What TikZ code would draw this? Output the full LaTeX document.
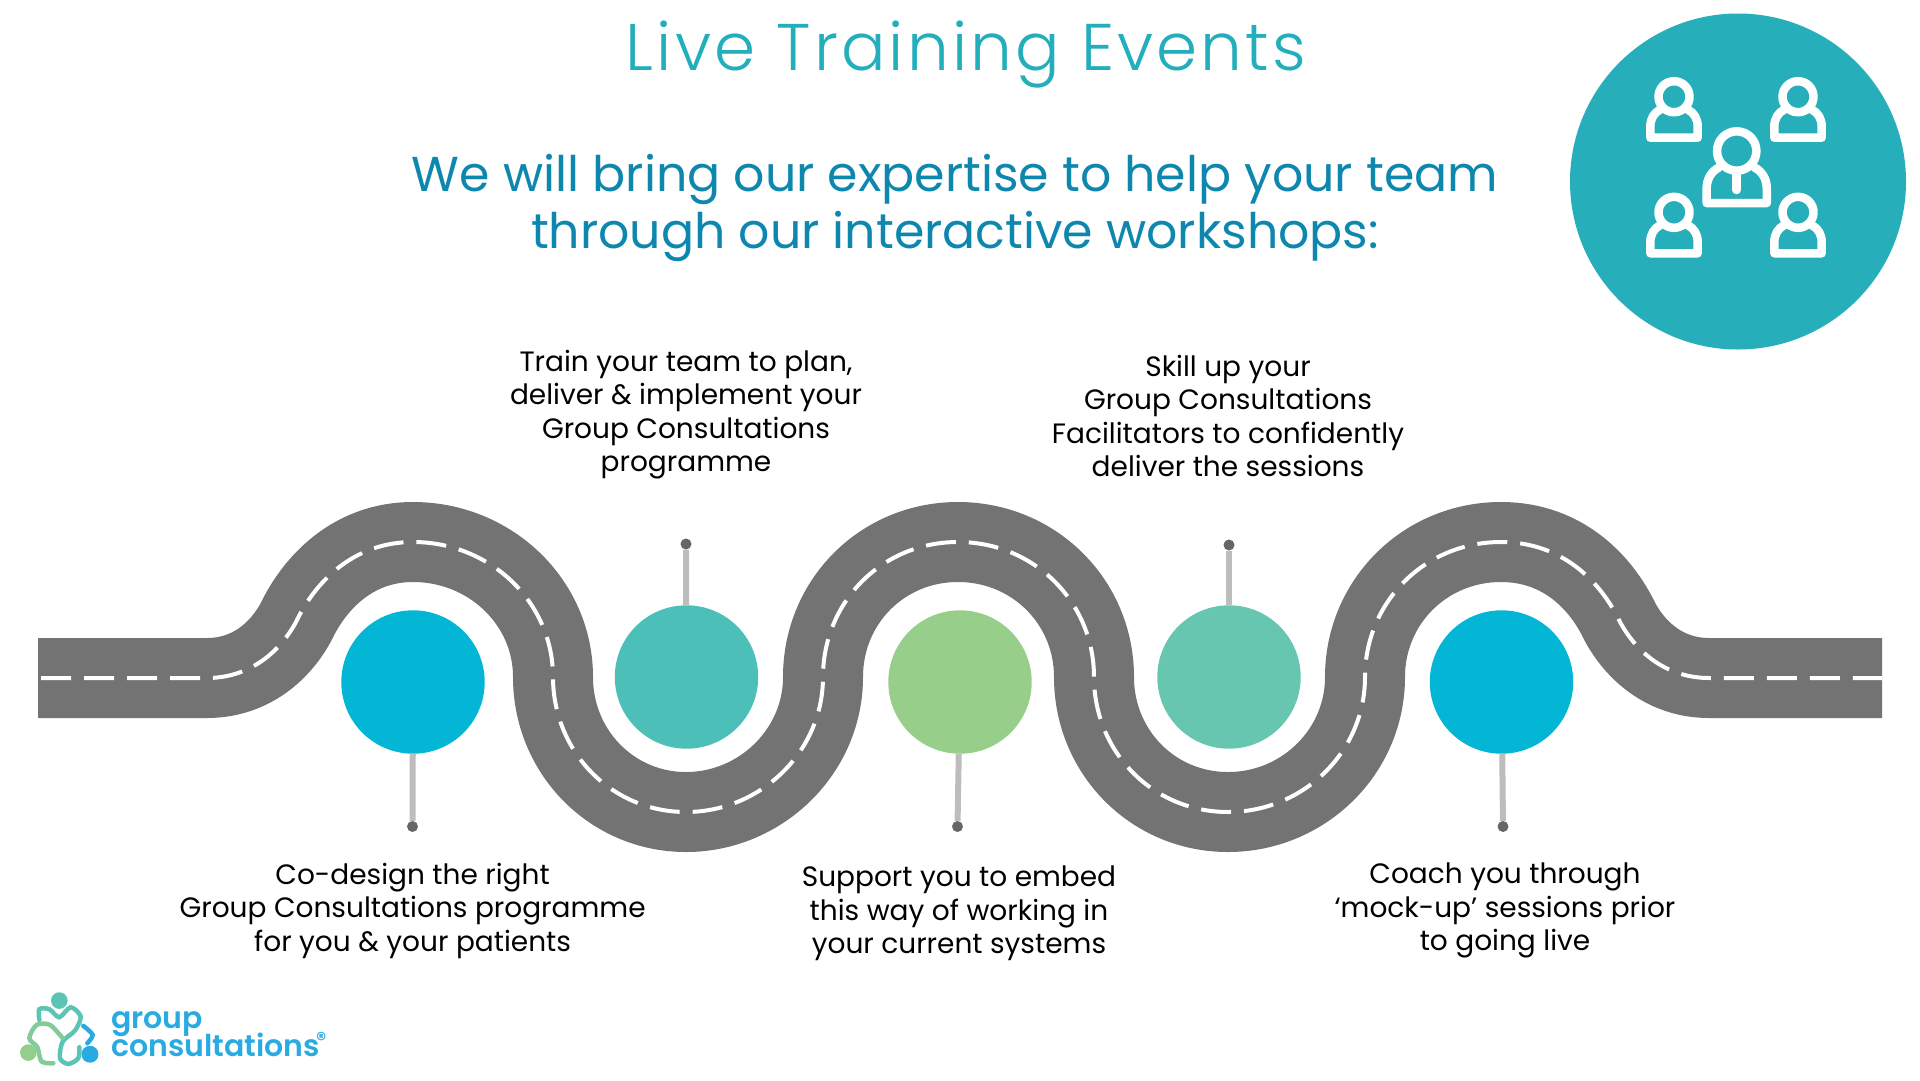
\documentclass[tikz,border=0pt]{standalone}
\usepackage{fontspec}
\setmainfont{Poppins}
\newfontfamily\lightfont[LetterSpace=4.8]{Poppins Light}
\newfontfamily\logofont{Poppins SemiBold}
\newcommand{\logotight}{\lineskiplimit=-30pt\relax}
\usetikzlibrary{calc}
\definecolor{titleteal}{HTML}{22AEBB}
\definecolor{subblue}{HTML}{0E87AF}
\definecolor{roadgrey}{HTML}{737373}
\definecolor{stemgrey}{HTML}{BDBDBD}
\definecolor{dotgrey}{HTML}{666666}
\definecolor{iconteal}{HTML}{26AEBB}
\definecolor{stopblue}{HTML}{03B6D5}
\definecolor{stopteal}{HTML}{4CC0B8}
\definecolor{stopgreen}{HTML}{97CE8A}
\definecolor{stopmint}{HTML}{66C6B0}
\definecolor{logoblue}{HTML}{29ABE2}
\definecolor{logoteal}{HTML}{5CC4B5}
\definecolor{logogreen}{HTML}{94CE8C}
\newcommand{\roadline}{(38,678) -- (207,678)
  .. controls (247,678) and (278,655) .. (296,622)
  .. controls (314,584) and (352,542) .. (413,542)
  .. controls (490,542) and (553,602) .. (553,677)
  .. controls (553,752) and (612,812) .. (686,812)
  .. controls (760,812) and (823,752) .. (823,677)
  .. controls (823,602) and (882,542) .. (958,542)
  .. controls (1034,542) and (1094,602) .. (1094,677)
  .. controls (1094,752) and (1153,812) .. (1228,812)
  .. controls (1303,812) and (1365,752) .. (1365,677)
  .. controls (1365,602) and (1425,542) .. (1501,542)
  .. controls (1564,542) and (1602,584) .. (1620,622)
  .. controls (1638,655) and (1669,678) .. (1709,678)
  -- (1882,678)}
\tikzset{
  stop/.style={circle, inner sep=0pt, minimum size=143.4pt, fill=#1},
  pindot/.style={circle, inner sep=0pt, minimum size=11pt, fill=dotgrey},
  stem/.style={draw=stemgrey, line width=6pt},
  caption/.style={align=center, font=\fontsize{28}{33.5}\selectfont, text=black},
  person/.pic={code={%
      \draw [white, line width=8.5pt, line cap=round, line join=round]
        (0,0) circle (15.5)
        (-14,13) .. controls (-20,16) and (-23.7,22) .. (-23.7,30)
        -- (-23.7,41) -- (23.7,41) -- (23.7,30)
        .. controls (23.7,22) and (20,16) .. (14,13);
  }},
  logoline/.style={line width=4.5pt, line cap=round},
}

\begin{document}
\begin{tikzpicture}[x=1pt, y=-1pt]
    \useasboundingbox (0,0) rectangle (1920,1080);

    % road
    \draw [roadgrey, line width=80pt] \roadline;
    \draw [white, line width=4pt, dash pattern=on 30pt off 13pt, dash phase=40pt] \roadline;

    % stops on the road
    \node [stop=stopblue] (stopA) at (413,682) {};
    \node [stop=stopteal] (stopB) at (686.5,677) {};
    \node [stop=stopgreen] (stopC) at (960,682) {};
    \node [stop=stopmint] (stopD) at (1229,677) {};
    \node [stop=stopblue] (stopE) at (1501.5,682) {};
    \node [pindot] (dotA) at (412.5,826.5) {};
    \node [pindot] (dotB) at (686,544) {};
    \node [pindot] (dotC) at (957.5,826.5) {};
    \node [pindot] (dotD) at (1229,545) {};
    \node [pindot] (dotE) at (1503,826.5) {};
    \draw [stem] (stopA) -- (dotA);
    \draw [stem] (stopB) -- (dotB);
    \draw [stem] (stopC) -- (dotC);
    \draw [stem] (stopD) -- (dotD);
    \draw [stem] (stopE) -- (dotE);

    % add labels
    \node [text=titleteal, font=\lightfont\fontsize{66}{72}\selectfont] (title) at (966,55) {Live Training Events};
    \node [align=center, text=subblue, font=\fontsize{49}{56.5}\selectfont] (subtitle) at (955,208)
      {We will bring our expertise to help your team\\through our interactive workshops:};
    \node [caption] (textA) at (412.6,910.5) {Co-design the right\\Group Consultations programme\\for you \& your patients};
    \node [caption] (textB) at (686,414.5) {Train your team to plan,\\deliver \& implement your\\Group Consultations\\programme};
    \node [caption] (textC) at (959,913.5) {Support you to embed\\this way of working in\\your current systems};
    \node [caption] (textD) at (1228,416) {Skill up your\\Group Consultations\\Facilitators to confidently\\deliver the sessions};
    \node [caption] (textE) at (1505,910.5) {Coach you through\\‘mock-up’ sessions prior\\to going live};

    % people icon
    \node [circle, inner sep=0pt, minimum size=336pt, fill=iconteal] (icon) at (1738,181.5) {};
    \path (1674,96.7) pic {person};
    \path (1798,96.7) pic {person};
    \path (1674,212.3) pic {person};
    \path (1798,212.3) pic {person};
    \path (1736.7,151) pic [scale=1.27] {person};
    \draw [white, line width=8.5pt, line cap=round] (1736.7,171) -- (1736.7,190);

    % logo
    \begin{scope}[x=0.3333pt, y=-0.3333pt, shift={(0,2880)}]
      \node [circle, inner sep=0pt, minimum size=16.6pt, fill=logoteal] (logoA) at (178,122) {};
      \node [circle, inner sep=0pt, minimum size=16.6pt, fill=logogreen] (logoB) at (85,278) {};
      \node [circle, inner sep=0pt, minimum size=17pt, fill=logoblue] (logoC) at (270,283) {};
      \draw [logoline, draw=logoteal] plot [smooth] coordinates {(118,180) (118,148) (148,148) (178,172) (212,142) (242,170) (225,212) (188,245) (180,295) (205,312) (235,295) (238,262)};
      \draw [logoline, draw=logoblue] plot [smooth] coordinates {(250,198) (278,225) (262,250)};
      \draw [logoline, draw=logogreen!70!logoteal] plot [smooth] coordinates {(188,235) (150,195) (110,195) (88,235) (112,262) (125,305) (160,310)};
    \end{scope}
    \node [anchor=base west, inner sep=0pt, align=left, text=logoblue, font=\logofont\fontsize{30}{28}\selectfont\logotight] (logoword) at (111,1056) {group\\consultations};
    \node [anchor=base west, inner sep=0pt, text=logoblue, font=\logofont\fontsize{20}{20}\selectfont] (logomark) at (316,1046) {®};
\end{tikzpicture}
\end{document}
